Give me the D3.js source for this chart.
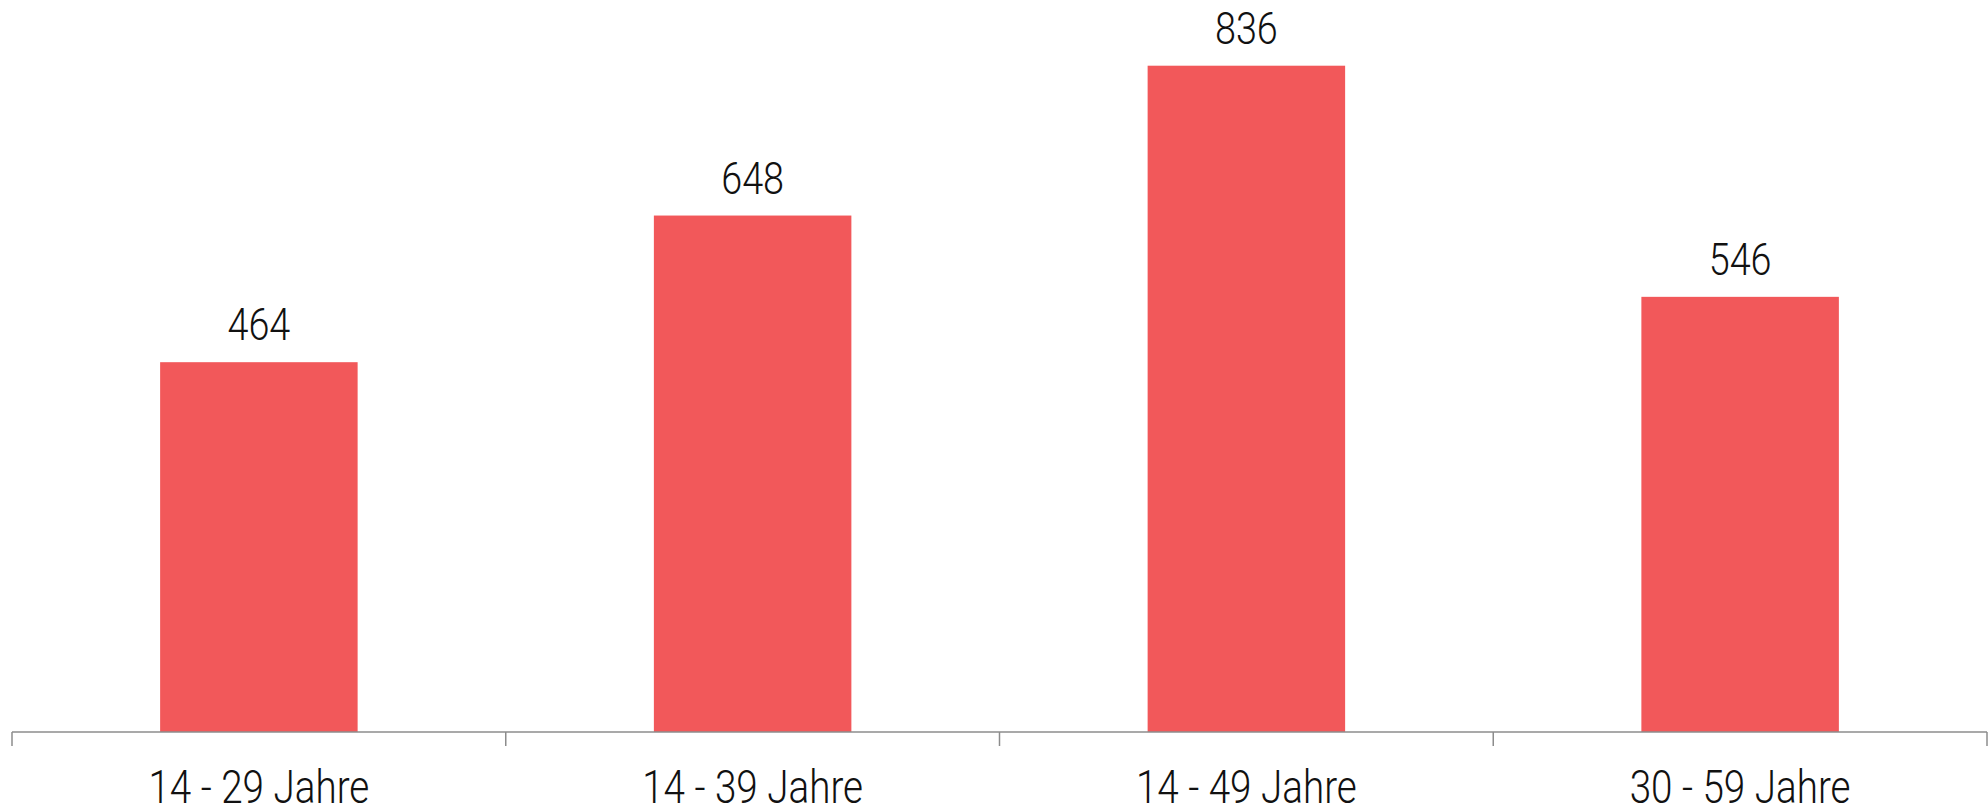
<!DOCTYPE html>
<html>
<head>
<meta charset="utf-8">
<script src="https://cdn.jsdelivr.net/npm/d3@7"></script>
<style>
  html, body { margin: 0; padding: 0; background: #ffffff; }
  svg { display: block; }
  text { font-family: Roboto, "Liberation Sans", sans-serif; font-weight: 300; fill: #111111; }
</style>
</head>
<body>
<svg id="chart" width="1988" height="807"></svg>
<script>
const categories = ["14 - 29 Jahre", "14 - 39 Jahre", "14 - 49 Jahre", "30 - 59 Jahre"];
const values = [464, 648, 836, 546];

const W = 1988, H = 807;
const axisLeft = 12, axisRight = 1987, axisY = 732;
const narrow = 0.84;

const svg = d3.select("#chart");

const x = d3.scaleBand()
  .domain(categories)
  .range([axisLeft, axisRight])
  .paddingInner(0.6)
  .paddingOuter(0.3);

const xBounds = d3.scaleBand()
  .domain(categories)
  .range([axisLeft, axisRight])
  .padding(0);

const y = d3.scaleLinear()
  .domain([0, 900])
  .range([axisY, axisY - 0.797 * 900]);

const data = categories.map((c, i) => ({ c, v: values[i] }));

// bars
svg.append("g").selectAll("rect")
  .data(data)
  .join("rect")
  .attr("x", d => x(d.c))
  .attr("y", d => y(d.v))
  .attr("width", x.bandwidth())
  .attr("height", d => y(0) - y(d.v))
  .attr("fill", "#f2585a");

// value labels
svg.append("g").selectAll("text")
  .data(data)
  .join("text")
  .attr("transform", d => `translate(${x(d.c) + x.bandwidth() / 2},${y(d.v) - 22}) scale(${narrow},1)`)
  .attr("text-anchor", "middle")
  .attr("font-size", 45)
  .text(d => d.v);

// axis line
const axisG = svg.append("g").attr("stroke", "#8c8c8c").attr("stroke-width", 1.5);
axisG.append("line")
  .attr("x1", axisLeft).attr("x2", axisRight)
  .attr("y1", axisY).attr("y2", axisY);

// ticks at category boundaries
const bounds = categories.map(c => xBounds(c)).concat([xBounds.range()[1]]);
axisG.selectAll("line.tick")
  .data(bounds)
  .join("line")
  .attr("class", "tick")
  .attr("x1", d => d).attr("x2", d => d)
  .attr("y1", axisY).attr("y2", axisY + 14);

// category labels
svg.append("g").selectAll("text")
  .data(categories)
  .join("text")
  .attr("transform", d => `translate(${xBounds(d) + xBounds.bandwidth() / 2},803) scale(${narrow},1)`)
  .attr("text-anchor", "middle")
  .attr("font-size", 46)
  .text(d => d);
</script>
</body>
</html>
